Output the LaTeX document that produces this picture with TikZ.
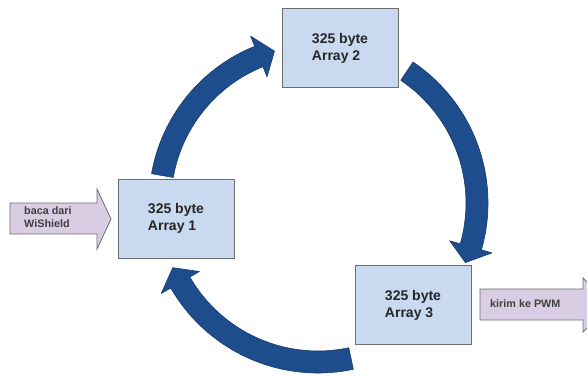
\documentclass[tikz,border=0pt]{standalone}
\usepackage{fontspec}
\setmainfont{Liberation Sans}
\definecolor{arrowblue}{RGB}{30,77,142}
\definecolor{boxblue}{RGB}{200,217,240}
\definecolor{boxline}{RGB}{110,110,110}
\definecolor{sidefill}{RGB}{216,205,226}
\begin{document}
\begin{tikzpicture}[x=1pt,y=1pt,
  arrowarc/.style={fill=arrowblue, draw=arrowblue!75!black, line width=0.6pt, line join=round},
  arraybox/.style={draw=boxline, line width=1pt, fill=boxblue, minimum width=116pt, minimum height=79pt, inner sep=0pt,
    align=left, font=\fontsize{14}{17}\selectfont\bfseries, text=black!85},
  sidearrow/.style={fill=sidefill, draw=boxline, line width=0.8pt, line join=miter},
  sidetext/.style={align=left, font=\fontsize{10.8}{12.5}\selectfont\bfseries, text=black!75, inner sep=0pt, anchor=west}]
\useasboundingbox (0,0) rectangle (587,376);
\fill[white] (0,0) rectangle (587,376);
\coordinate (C) at (318,173);
\begin{scope}[shift={(C)}]
  % arc from Array 1 to Array 2
  \filldraw[arrowarc] (170:147) arc[start angle=170,end angle=112,radius=147] -- (112:136) -- (106:158) -- (112:180) -- (112:169) arc[start angle=112,end angle=170,radius=169] -- cycle;
  % arc from Array 2 to Array 3
  \filldraw[arrowarc] (56:148) arc[start angle=56,end angle=-16,radius=148] -- (-16:137) -- (-22:159) -- (-16:181) -- (-16:170) arc[start angle=-16,end angle=56,radius=170] -- cycle;
  % arc from Array 3 to Array 1
  \filldraw[arrowarc] (-78:148) arc[start angle=-78,end angle=-150,radius=148] -- (-150:137) -- (-156:159) -- (-150:181) -- (-150:170) arc[start angle=-150,end angle=-78,radius=170] -- cycle;
\end{scope}
\node[arraybox] (a1) at (176,157.5) {325 byte\\Array 1};
\node[arraybox] (a2) at (340,328) {325 byte\\Array 2};
\node[arraybox] (a3) at (413,71) {325 byte\\Array 3};
% input arrow
\filldraw[sidearrow] (10,173) -- (97,173) -- (97,187) -- (111,157) -- (97,127) -- (97,142) -- (10,142) -- cycle;
\node[sidetext] (in) at (24,159) {baca dari\\WiShield};
% output arrow
\begin{scope}
  \clip (0,0) rectangle (587,376);
  \filldraw[sidearrow] (480,87) -- (583,87) -- (583,98) -- (610,71) -- (583,44) -- (583,56) -- (480,56) -- cycle;
\end{scope}
\node[sidetext] (out) at (490,72) {kirim ke PWM};
\end{tikzpicture}
\end{document}
